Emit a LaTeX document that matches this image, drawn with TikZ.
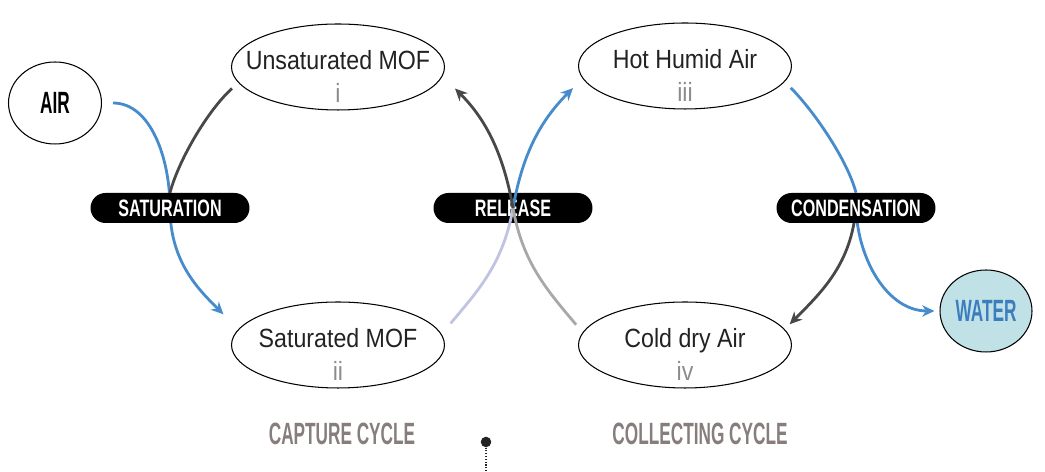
\documentclass[tikz,border=0pt]{standalone}
\usepackage{fontspec}
\setmainfont{Liberation Sans}[FakeStretch=0.88]
\newfontfamily\tagfont{Liberation Sans Bold}[FakeStretch=0.68]
\newfontfamily\capsfont{Liberation Sans Bold}[FakeStretch=0.56]
\usetikzlibrary{
  arrows.meta,
  positioning,
  shapes.geometric,
  backgrounds
}
\definecolor{ink}{RGB}{34,34,34}
\definecolor{numgrey}{RGB}{140,140,140}
\definecolor{flowblue}{RGB}{70,140,205}
\definecolor{fadeblue}{RGB}{192,196,226}
\definecolor{drygrey}{RGB}{72,72,72}
\definecolor{fadegrey}{RGB}{168,168,168}
\definecolor{cyclegrey}{RGB}{135,125,125}
\definecolor{waterfill}{RGB}{192,226,230}
\definecolor{waterink}{RGB}{60,125,190}

\begin{document}
\begin{tikzpicture}[
  x=0.02cm, y=0.02cm,
  every node/.style={font=\fontsize{15}{18.6}\selectfont},
  stage/.style={ellipse, draw=black, line width=0.6pt, minimum width=4.26cm,
                minimum height=1.72cm, inner sep=0pt},
  stagetext/.style={align=center, text=ink, yshift=-5.5pt},
  source/.style={ellipse, draw=black, line width=0.6pt, minimum width=1.86cm,
                 minimum height=1.64cm, inner sep=0pt,
                 font=\capsfont\fontsize{17.5}{20}\selectfont},
  tag/.style={fill=black, rounded corners=0.3cm, minimum width=3.18cm,
              minimum height=0.6cm, inner sep=0pt, text=white,
              font=\tagfont\fontsize{13.5}{15}\selectfont},
  cyclelabel/.style={text=cyclegrey, font=\capsfont\fontsize{17.5}{20}\selectfont},
  wetline/.style={line width=1.6pt, draw=flowblue},
  dryline/.style={line width=1.6pt, draw=drygrey},
  >={Stealth[length=7pt, width=6.5pt]}
]
\useasboundingbox (0,0) rectangle (1045,472);

% sources and sink
\node[source] (air) at (55,369) {AIR};
\node[source, fill=waterfill, text=waterink, minimum width=1.84cm] (water) at (986,161) {WATER};

% the four states
\node[stage] (unsat) at (338,405) {};
\node[stagetext] (unsat-t) at (unsat) {Unsaturated MOF\\ \textcolor{numgrey}{i}};
\node[stage] (satmof) at (338,127) {};
\node[stagetext] (satmof-t) at (satmof) {Saturated MOF\\ \textcolor{numgrey}{ii}};
\node[stage] (hot) at (685,406) {};
\node[stagetext] (hot-t) at (hot) {Hot Humid Air\\ \textcolor{numgrey}{iii}};
\node[stage] (cold) at (685,127) {};
\node[stagetext] (cold-t) at (cold) {Cold dry Air\\ \textcolor{numgrey}{iv}};

% process tags
\node[tag] (satpill) at (170,264) {SATURATION};
\node[tag] (relpill) at (513,264) {RELEASE};
\node[tag] (conpill) at (856,264) {CONDENSATION};

% lines running under the tags
\begin{scope}[on background layer]
  \draw[wetline, ->, shorten <=0.22cm, shorten >=0.42cm]
    (air.east) to[out=0, in=90] (satpill.center) to[out=-90, in=135] (satmof.171);
  \draw[dryline, shorten <=0.17cm]
    (unsat.189) .. controls +(222:40) and +(75:35) .. (satpill.north);
  \draw[wetline, shorten <=0.17cm]
    (hot.-9) .. controls +(-45:40) and +(105:35) .. (conpill.north);
  \draw[dryline, ->, shorten >=0.14cm] (conpill.center) to[out=-95, in=45] (cold.9);
  \draw[wetline, ->, shorten >=0.1cm] (conpill.center) to[out=-88, in=180] (water.west);
\end{scope}

% release crossing, drawn over its tag
\draw[line width=1.6pt, fadeblue, shorten <=0.28cm]
  (satmof.6) to[out=50, in=-100] (relpill.center);
\draw[line width=1.6pt, fadegrey, shorten <=0.2cm]
  (cold.173) to[out=130, in=-80] (relpill.center);
\draw[wetline, ->, shorten >=0.27cm] (relpill.center) to[out=80, in=-135] (hot.187);
\draw[dryline, ->, shorten >=0.35cm] (relpill.center) to[out=100, in=-45] (unsat.-5);

% cycle names
\node[cyclelabel] (capture) at (342,38) {CAPTURE CYCLE};
\node[cyclelabel] (collect) at (700,38) {COLLECTING CYCLE};

% pin
\node[circle, fill=ink, inner sep=0pt, minimum size=6pt] (pin) at (486,30) {};
\coordinate (pinfoot) at (486,0);
\draw[densely dotted, line width=0.6pt, ink] (pin) -- (pinfoot);

\end{tikzpicture}
\end{document}
